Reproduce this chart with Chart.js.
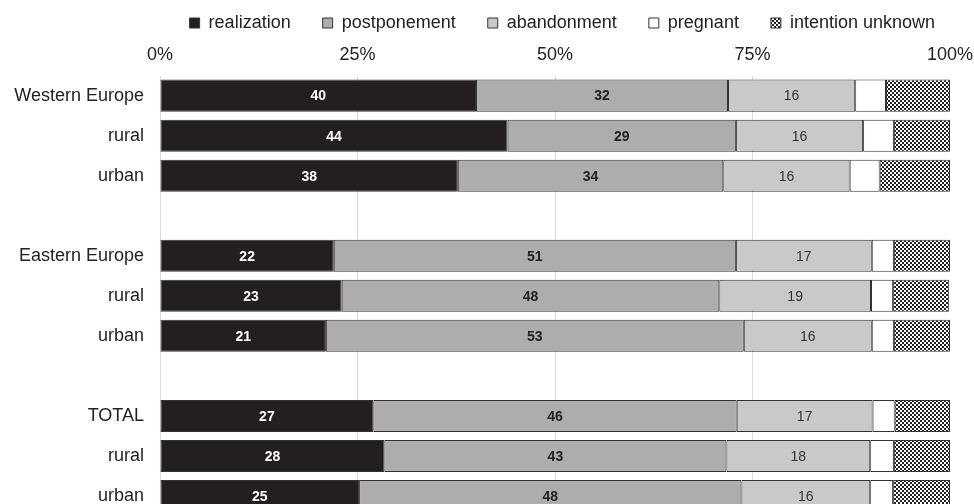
<!DOCTYPE html>
<html>
<head>
<meta charset="utf-8">
<script src="https://cdn.jsdelivr.net/npm/chart.js@4"></script>
<style>
    body { margin: 0; overflow: hidden; background: #fff; }
    #barChartCanvas { display: block; }
</style>
</head>
<body>
<canvas id="barChartCanvas" width="974" height="524"></canvas>
<script>
// rows of the chart, empty strings are the gaps between the groups
const categories = ['Western Europe', 'rural', 'urban', '', 'Eastern Europe', 'rural', 'urban', '', 'TOTAL', 'rural', 'urban'];

// shares in percent
const realization  = [40.0, 44.0, 37.7, null, 22.0, 23.0, 21.0, null, 27.0, 28.4, 25.2];
const postponement = [31.9, 28.9, 33.6, null, 50.9, 47.8, 52.9, null, 46.0, 43.3, 48.4];
const abandonment  = [16.1, 16.1, 16.0, null, 17.2, 19.2, 16.2, null, 17.2, 18.2, 16.3];
const pregnant     = [3.9, 3.9, 3.8, null, 2.8, 2.8, 2.8, null, 2.8, 3.0, 2.9];
const unknown      = [8.1, 7.1, 8.9, null, 7.1, 7.1, 7.1, null, 7.0, 7.1, 7.2];

const xTicks = [0, 25, 50, 75, 100];

const FONT = '"Liberation Sans", Arial, sans-serif';

// small black / white checkerboard for "intention unknown"
function makeChecker() {
    const c = document.createElement('canvas');
    c.width = 4;
    c.height = 4;
    const g = c.getContext('2d');
    g.fillStyle = '#fff';
    g.fillRect(0, 0, 4, 4);
    g.fillStyle = '#222';
    g.fillRect(0, 0, 2, 2);
    g.fillRect(2, 2, 2, 2);
    return g.createPattern(c, 'repeat');
}

const checker = makeChecker();

// writes the rounded value in the middle of the first three segments
const valueLabels = {
    id: 'valueLabels',
    afterDatasetsDraw(chart) {
        const ctx = chart.ctx;
        const styles = [
            { color: '#fff', font: 'bold 14px ' + FONT },
            { color: '#222', font: 'bold 14px ' + FONT },
            { color: '#333', font: '14px ' + FONT }
        ];
        ctx.save();
        ctx.textAlign = 'center';
        ctx.textBaseline = 'middle';
        for (let d = 0; d < 3; d++) {
            const meta = chart.getDatasetMeta(d);
            const values = chart.data.datasets[d].data;
            meta.data.forEach((bar, i) => {
                if (values[i] == null) return;
                const p = bar.getProps(['x', 'y', 'base'], true);
                ctx.fillStyle = styles[d].color;
                ctx.font = styles[d].font;
                ctx.fillText(Math.round(values[i]), (p.x + p.base) / 2, p.y + 1);
            });
        }
        ctx.restore();
    }
};

const commonBar = {
    borderColor: '#333',
    borderWidth: 1,
    borderSkipped: false,
    barPercentage: 0.8,
    categoryPercentage: 1.0
};

new Chart(document.querySelector('#barChartCanvas').getContext('2d'), {
    type: 'bar',
    data: {
        labels: categories,
        datasets: [
            Object.assign({ label: 'realization', data: realization, backgroundColor: '#231f20' }, commonBar),
            Object.assign({ label: 'postponement', data: postponement, backgroundColor: '#adadad' }, commonBar),
            Object.assign({ label: 'abandonment', data: abandonment, backgroundColor: '#c9c9c9' }, commonBar),
            Object.assign({ label: 'pregnant', data: pregnant, backgroundColor: '#fff' }, commonBar),
            Object.assign({ label: 'intention unknown', data: unknown, backgroundColor: checker }, commonBar)
        ]
    },
    options: {
        indexAxis: 'y',
        responsive: false,
        animation: false,
        layout: { padding: { left: 0, right: 7, top: -18, bottom: 0 } },
        scales: {
            x: {
                position: 'top',
                stacked: true,
                min: 0,
                max: 100,
                afterBuildTicks: scale => { scale.ticks = xTicks.map(v => ({ value: v })); },
                afterFit: scale => { scale.paddingLeft = 0; scale.paddingRight = 24; },
                ticks: {
                    callback: v => v + '%',
                    color: '#222',
                    padding: 10,
                    maxRotation: 0,
                    font: { size: 18, family: FONT }
                },
                grid: {
                    color: ctx => (ctx.tick && ctx.tick.value === 100 ? 'rgba(0,0,0,0)' : '#dcdcdc'),
                    drawTicks: false
                },
                border: { display: false }
            },
            y: {
                stacked: true,
                afterFit: scale => {
                    scale.width = 160;
                    scale.paddingTop = 0;
                    scale.paddingBottom = 8;
                },
                ticks: {
                    color: '#222',
                    padding: 16,
                    font: { size: 18, family: FONT }
                },
                grid: { display: false, drawTicks: false },
                border: { display: false }
            }
        },
        plugins: {
            legend: {
                position: 'top',
                align: 'end',
                maxHeight: 52,
                labels: {
                    boxWidth: 10,
                    boxHeight: 10,
                    padding: 32,
                    color: '#222',
                    font: { size: 18, family: FONT }
                }
            },
            tooltip: { enabled: false }
        }
    },
    plugins: [valueLabels]
});
</script>
</body>
</html>
